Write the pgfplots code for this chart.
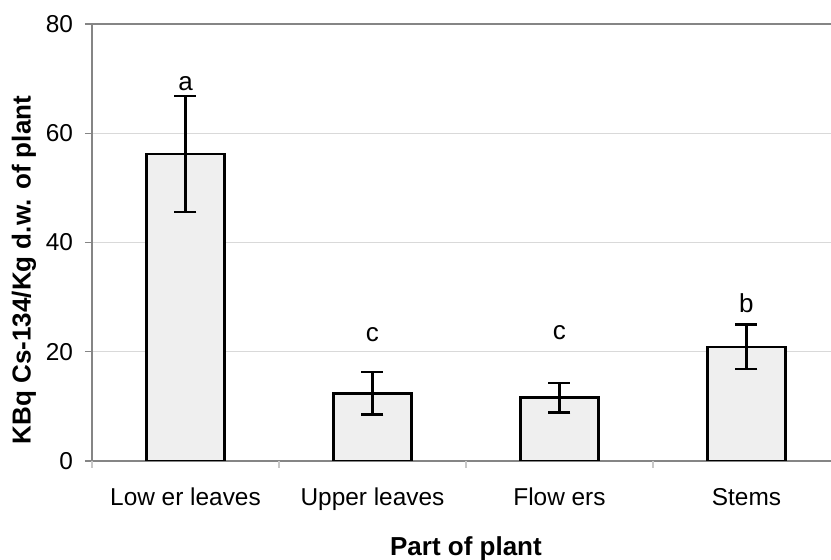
\documentclass[border=0pt]{standalone}
\usepackage{pgfplots}
\pgfplotsset{compat=1.18}
\usepackage{fontspec}
\setmainfont{Liberation Sans}
\definecolor{framegray}{HTML}{858585}
\definecolor{gridgray}{HTML}{D9D9D9}
\definecolor{barfill}{HTML}{EFEFEF}
\begin{document}
\begin{tikzpicture}
\begin{axis}[
  name=ax, at={(0,0)}, anchor=south west,
  scale only axis, width=369.5pt, height=218.5pt,
  xmin=-0.5, xmax=3.452, ymin=0, ymax=80,
  ybar, bar width=39pt,
  axis x line*=box, axis y line*=left,
  axis line style={framegray, line width=0.8pt, -},
  ytick={0,20,40,60,80},
  ymajorgrids, grid style={gridgray, line width=0.5pt},
  xtick={0,1,2,3},
  xticklabels={Low er leaves, Upper leaves, Flow ers, Stems},
  xtick pos=bottom, ytick pos=left,
  tick align=outside,
  major tick length=3.5pt,
  tick style={framegray, line width=0.7pt},
  major x tick style={draw=none},
  extra x ticks={-0.5,0.5,1.5,2.5},
  extra x tick labels={},
  extra x tick style={grid=none, major x tick style={draw=gridgray!80!framegray}},
  ticklabel style={font=\fontsize{12.2}{14}\selectfont},
  /pgf/number format/assume math mode=true,
  yticklabel style={xshift=-2.5pt},
  xticklabel style={yshift=-6.5pt},
  ylabel={KBq Cs-134/Kg d.w. of plant},
  xlabel={Part of plant},
  label style={font=\fontsize{13}{15}\selectfont\bfseries},
  ylabel style={at={(axis description cs:0,0.437)}, anchor=center, rotate=0, yshift=34pt},
  xlabel style={at={(axis description cs:0.506,0)}, anchor=north, yshift=-34.2pt},
]
\addplot[fill=barfill, draw=black, line width=1.25pt,
  error bars/.cd, y dir=both, y explicit,
  error bar style={line width=1.25pt, black},
  error mark options={rotate=90, mark size=5.5pt, line width=1.25pt, black}]
  coordinates {
  (0,56.2) +- (0,10.6)
  (1,12.4) +- (0,3.9)
  (2,11.6) +- (0,2.7)
  (3,20.9) +- (0,4.1)
  };
\node[anchor=base, font=\fontsize{13}{15}\selectfont] at (axis cs:0,67.9) {a};
\node[anchor=base, font=\fontsize{13}{15}\selectfont] at (axis cs:1,21.8) {c};
\node[anchor=base, font=\fontsize{13}{15}\selectfont] at (axis cs:2,22.2) {c};
\node[anchor=base, font=\fontsize{13}{15}\selectfont] at (axis cs:3,27.1) {b};
\end{axis}
\pgfresetboundingbox
\useasboundingbox (-46pt,-49.5pt) rectangle (369.5pt,230.5pt);
\end{tikzpicture}
\end{document}
